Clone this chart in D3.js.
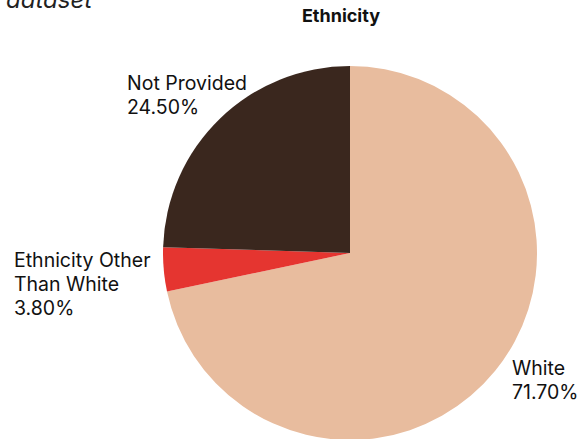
<!DOCTYPE html>
<html><head><meta charset="utf-8">
<script src="https://cdn.jsdelivr.net/npm/d3@7"></script>
<style>body{margin:0;background:#fff}svg{display:block}</style>
</head><body>
<script>
const categories = ["White", "Ethnicity Other Than White", "Not Provided"];
const values = [71.7, 3.8, 24.5];
const labelLines = [["White", "71.70%"], ["Ethnicity Other", "Than White", "3.80%"], ["Not Provided", "24.50%"]];
const colors = ["#E8BC9E", "#E53530", "#3A271E"];

const W = 585, H = 439;
const svg = d3.select("body").append("svg").attr("width", W).attr("height", H);
const font = "Inter, 'Open Sans', sans-serif";

svg.append("text").attr("x", 6).attr("y", 8).attr("font-family", font)
  .attr("font-style", "italic").attr("font-size", 24).attr("fill", "#222").text("dataset");
svg.append("text").attr("x", 341).attr("y", 22).attr("text-anchor", "middle")
  .attr("font-family", font).attr("font-weight", "bold").attr("font-size", 18).attr("fill", "#111").text("Ethnicity");

const cx = 350, cy = 253, r = 187;
const pie = d3.pie().sort(null).value(d => d)(values);
const arc = d3.arc().innerRadius(0).outerRadius(r);
const g = svg.append("g").attr("transform", `translate(${cx},${cy})`);
g.selectAll("path").data(pie).join("path").attr("d", arc).attr("fill", (d, i) => colors[i]);

const labelPos = [[512, 375], [14, 267], [127, 90]];
labelLines.forEach((lines, i) => {
  const t = svg.append("text").attr("font-family", font).attr("font-size", 19.5).attr("fill", "#111");
  lines.forEach((l, j) => t.append("tspan").attr("x", labelPos[i][0]).attr("y", labelPos[i][1] + j * 24).text(l));
});
</script>
</body></html>
